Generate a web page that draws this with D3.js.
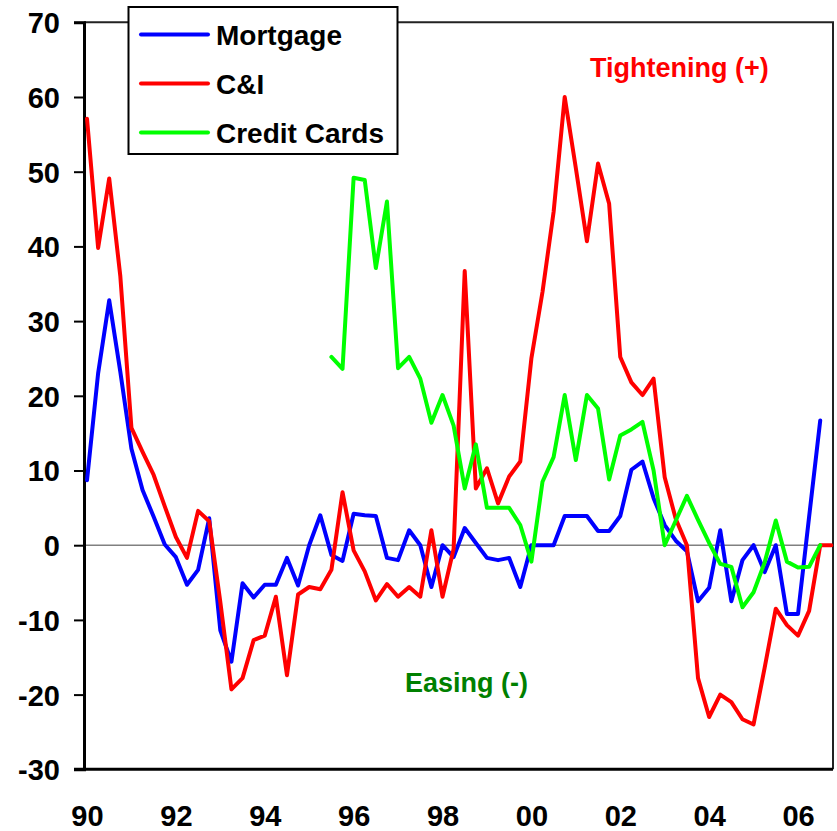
<!DOCTYPE html>
<html>
<head>
<meta charset="utf-8">
<script src="https://cdn.jsdelivr.net/npm/d3@7"></script>
<style>
  body { margin: 0; background: #fff; }
  text { font-family: Arial, "Liberation Sans", sans-serif; font-weight: bold; }
</style>
</head>
<body>
<div id="chart"></div>
<script>
// quarterly survey readings, first point = 1990 Q1
const mortgage = [
    8.7, 23.0, 32.8, 23.2, 12.9, 7.4, 3.8, 0.1, -1.6, -5.3, -3.3, 3.6,
    -11.4, -15.6, -5.1, -7.0, -5.3, -5.3, -1.7, -5.4, 0.0, 4.0, -1.3, -2.1,
    4.2, 4.0, 3.9, -1.7, -2.0, 2.0, 0.0, -5.6, 0.0, -1.6, 2.3, 0.3,
    -1.7, -2.0, -1.7, -5.6, 0.0, 0.0, 0.0, 3.9, 3.9, 3.9, 1.9, 1.9,
    3.9, 10.1, 11.2, 6.3, 2.7, 0.6, -0.8, -7.5, -5.7, 2.0, -7.5, -2.0,
    0.0, -3.6, 0.0, -9.2, -9.2, 3.8, 16.7
];
const commercial = [
    57.1, 39.8, 49.1, 36.0, 15.7, 12.5, 9.4, 5.2, 1.1, -1.7, 4.6, 3.2,
    -7.6, -19.3, -17.8, -12.7, -12.1, -6.9, -17.4, -6.6, -5.6, -5.9, -3.3, 7.1,
    -0.7, -3.5, -7.4, -5.2, -6.9, -5.6, -6.9, 2.0, -6.9, -0.5, 36.7, 7.6,
    10.3, 5.6, 9.2, 11.2, 25.0, 33.9, 44.6, 60.0, 50.5, 40.7, 51.1, 45.7,
    25.2, 21.8, 20.1, 22.3, 9.1, 3.5, 0.0, -17.8, -23.0, -20.0, -21.0, -23.3,
    -24.0, -16.4, -8.5, -10.7, -12.1, -8.8, 0.0, 0.0
];
// credit cards series begins in 1995 Q3 (quarter index 22)
const cardsStart = 22;
const creditCards = [
    25.2, 23.6, 49.2, 48.9, 37.1, 46.0, 23.7, 25.2, 22.3, 16.4, 20.1, 16.0,
    7.6, 13.5, 5.0, 5.0, 5.0, 2.7, -2.2, 8.5, 11.8, 20.1, 11.4, 20.1,
    18.3, 8.8, 14.7, 15.5, 16.5, 10.0, 0.0, 3.3, 6.6, 3.4, 0.3, -2.5,
    -2.9, -8.3, -6.3, -2.3, 3.3, -2.2, -3.0, -2.9, 0.0
];

const yTicks = [-30, -20, -10, 0, 10, 20, 30, 40, 50, 60, 70];
const xTickLabels = ["90", "92", "94", "96", "98", "00", "02", "04", "06"];
const xTickIndex = [0, 8, 16, 24, 32, 40, 48, 56, 64];

const series = [
    { name: "Mortgage", color: "#0000ff", values: mortgage.map((v, i) => ({ i: i, v: v })) },
    { name: "C&I", color: "#ff0000", values: commercial.map((v, i) => ({ i: i, v: v })) },
    { name: "Credit Cards", color: "#00ff00", values: creditCards.map((v, i) => ({ i: i + cardsStart, v: v })) }
];

const width = 837;
const height = 831;
const plotLeft = 84, plotRight = 833, plotTop = 22.3, plotBottom = 769.3;

const svg = d3.select("#chart")
    .append("svg")
    .attr("width", width)
    .attr("height", height);

const x = d3.scaleLinear().domain([-0.27, 67.15]).range([plotLeft, plotRight]);
const y = d3.scaleLinear().domain([-30, 70]).range([plotBottom, plotTop]);

// zero reference line
svg.append("line")
    .attr("x1", plotLeft).attr("x2", plotRight)
    .attr("y1", y(0)).attr("y2", y(0))
    .attr("stroke", "#808080")
    .attr("stroke-width", 1.5);

// top and right frame
svg.append("path")
    .attr("d", `M${plotLeft},${plotTop}H${plotRight}V${plotBottom}`)
    .attr("fill", "none")
    .attr("stroke", "#222")
    .attr("stroke-width", 2);

// plain hyphen for negatives, as in the original
const yAxis = svg.append("g")
    .attr("transform", `translate(${plotLeft},0)`)
    .call(d3.axisLeft(y).tickValues(yTicks).tickSize(10).tickPadding(14)
        .tickFormat(d => String(d)));

const xAxis = svg.append("g")
    .attr("transform", `translate(0,${plotBottom})`)
    .call(d3.axisBottom(x).tickValues(xTickIndex).tickSize(0).tickPadding(36)
        .tickFormat((d, k) => xTickLabels[k]));

[yAxis, xAxis].forEach(g => {
    g.select(".domain").attr("stroke", "#000").attr("stroke-width", 3);
    g.selectAll(".tick line").attr("stroke", "#000").attr("stroke-width", 2);
    g.selectAll(".tick text")
        .attr("fill", "#000")
        .attr("font-size", "29px")
        .attr("font-family", "Arial, 'Liberation Sans', sans-serif")
        .attr("font-weight", "bold");
});
yAxis.selectAll(".tick text").attr("dy", "0.36em");
xAxis.select(".domain").attr("d", `M${plotLeft - 10},0H${plotRight}`);

const line = d3.line()
    .x(d => x(d.i))
    .y(d => y(d.v));

svg.append("g")
    .selectAll("path")
    .data(series)
    .enter()
    .append("path")
    .attr("d", d => line(d.values))
    .attr("fill", "none")
    .attr("stroke", d => d.color)
    .attr("stroke-width", 4)
    .attr("stroke-linejoin", "round")
    .attr("stroke-linecap", "round");

// legend
const legend = svg.append("g");
legend.append("rect")
    .attr("x", 128.5).attr("y", 7)
    .attr("width", 269).attr("height", 147)
    .attr("fill", "#fff")
    .attr("stroke", "#000")
    .attr("stroke-width", 2);

const item = legend.selectAll("g")
    .data(series)
    .enter()
    .append("g")
    .attr("transform", (d, k) => `translate(0,${34.5 + k * 49})`);

item.append("line")
    .attr("x1", 141).attr("x2", 208)
    .attr("stroke", d => d.color)
    .attr("stroke-width", 4)
    .attr("stroke-linecap", "round");

item.append("text")
    .attr("x", 216)
    .attr("dy", "0.36em")
    .attr("font-size", "28px")
    .attr("fill", "#000")
    .text(d => d.name);

svg.append("text")
    .attr("x", 590).attr("y", 77)
    .attr("font-size", "27px")
    .attr("fill", "#ff0000")
    .text("Tightening (+)");

svg.append("text")
    .attr("x", 405).attr("y", 692)
    .attr("font-size", "27px")
    .attr("fill", "#008000")
    .text("Easing (-)");
</script>
</body>
</html>
